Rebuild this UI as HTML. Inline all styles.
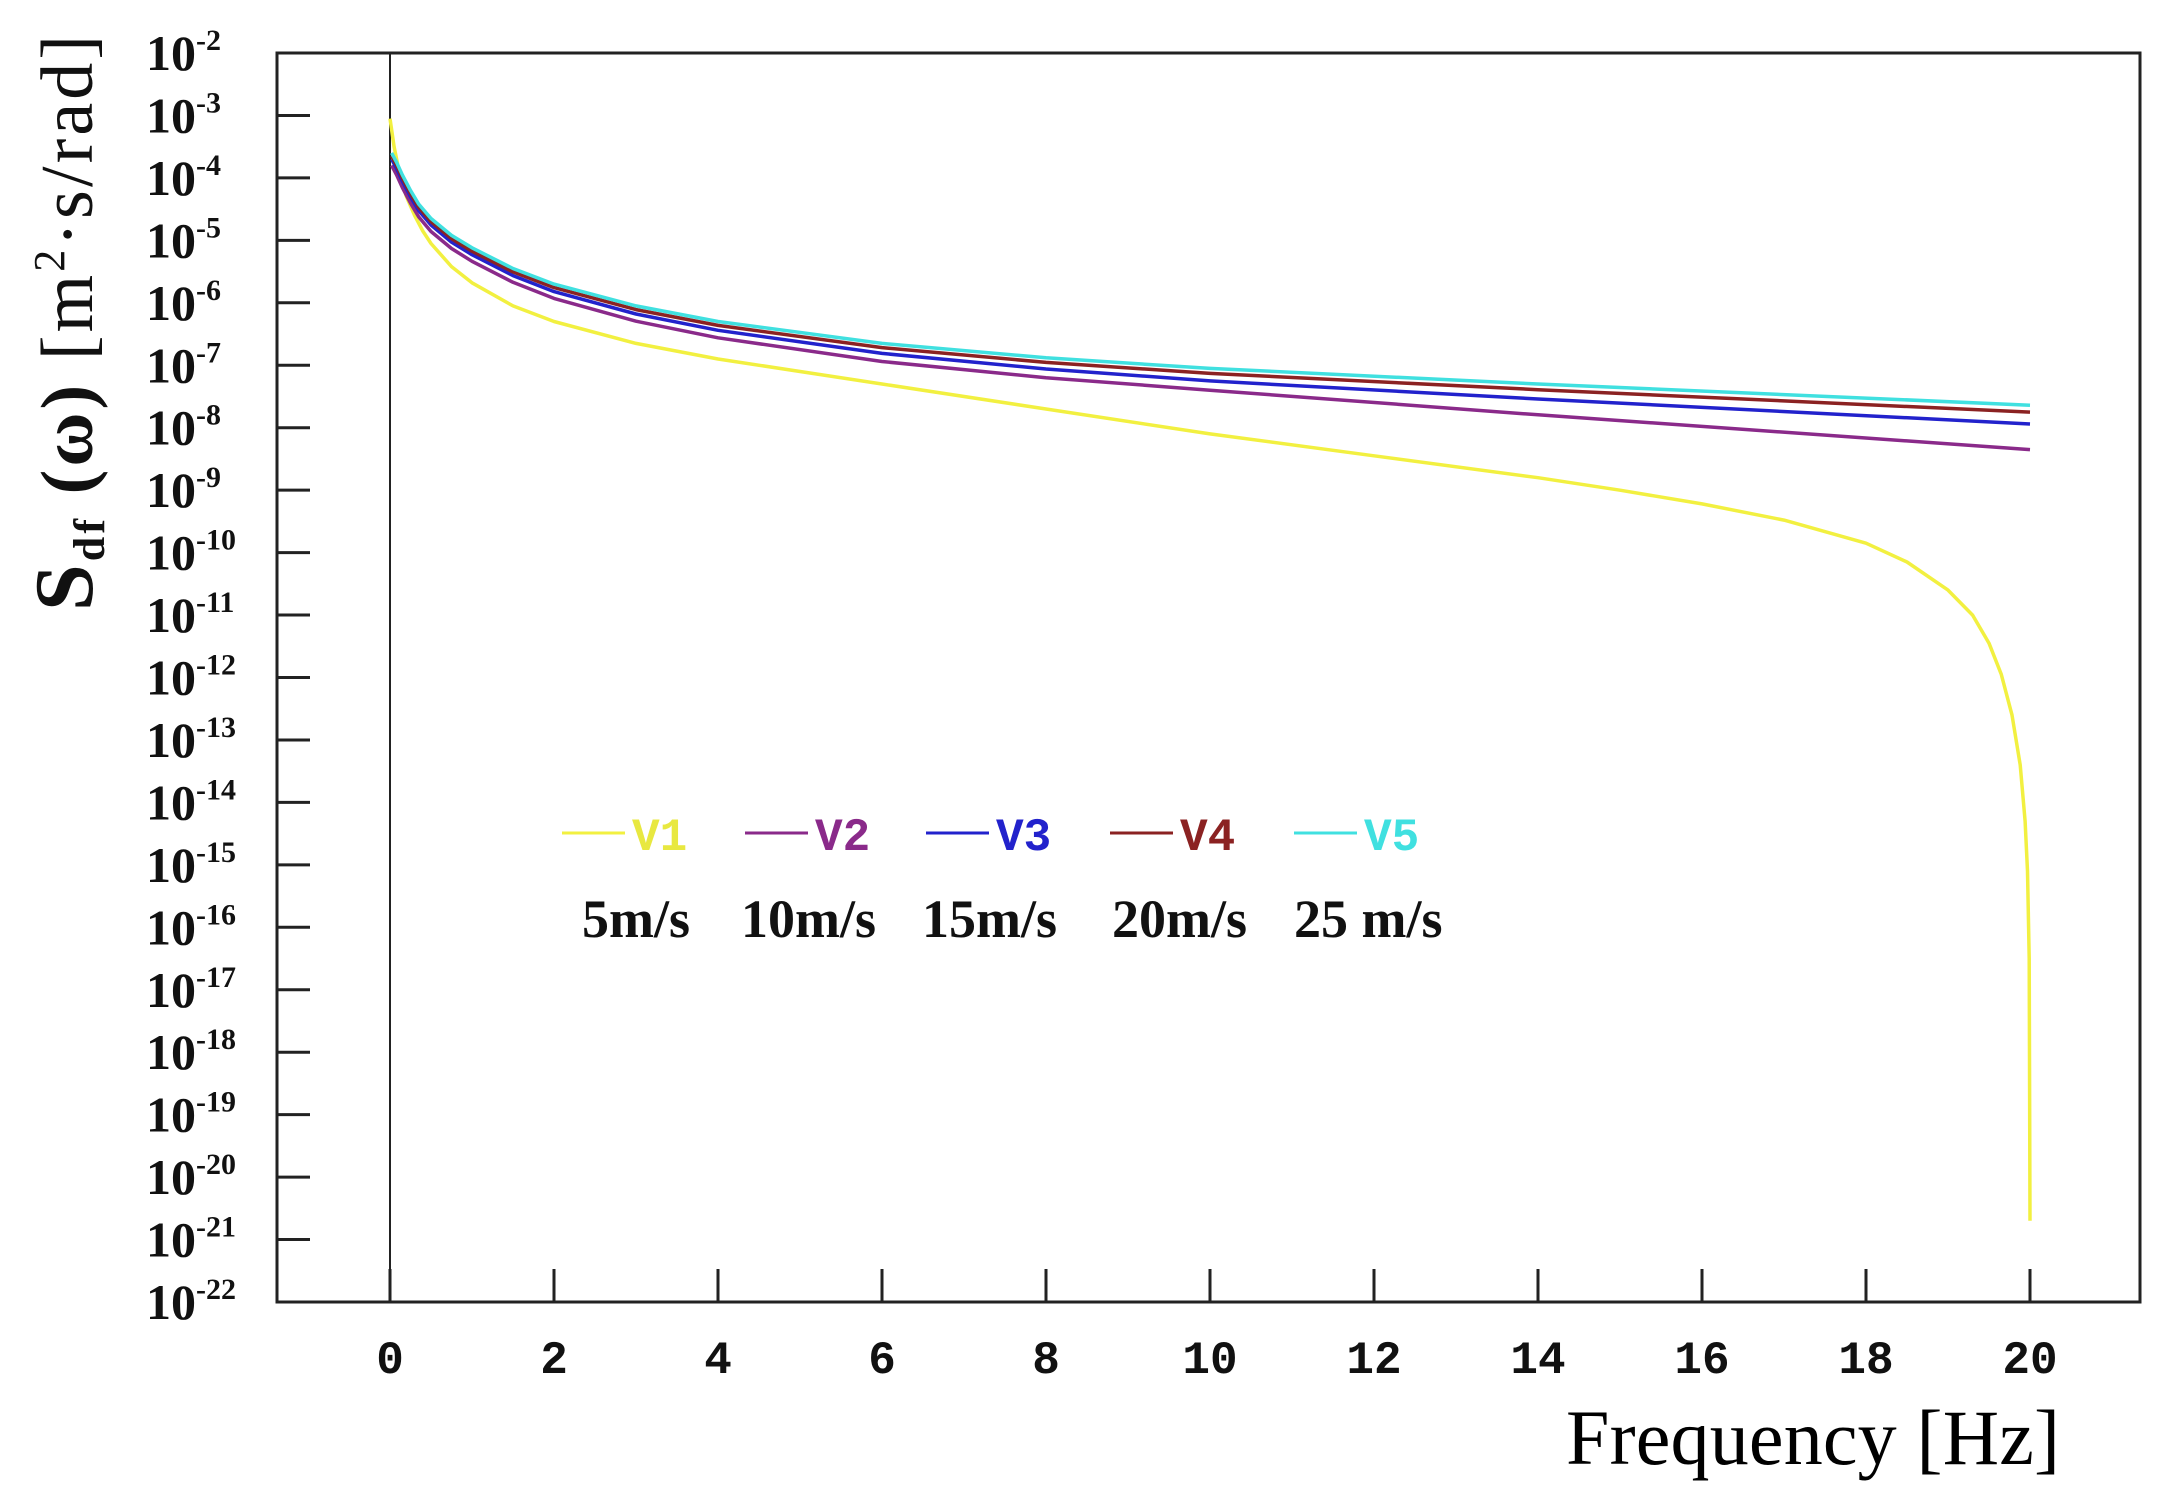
<!DOCTYPE html>
<html><head><meta charset="utf-8"><style>
html,body{margin:0;padding:0;background:#fff;}
svg{display:block;}
</style></head><body>
<svg id="s" width="2165" height="1502" viewBox="0 0 2165 1502" xmlns="http://www.w3.org/2000/svg">
<rect width="2165" height="1502" fill="#fff"/>
<rect x="277" y="53" width="1863" height="1249" fill="none" stroke="#222" stroke-width="3"/>
<line x1="390" y1="53" x2="390" y2="1302" stroke="#222" stroke-width="2"/>
<g id="yt"></g><g id="xt"></g><g id="curves" fill="none" stroke-width="3.5" stroke-linejoin="round"></g>
<text x="1566" y="1464" font-family="Liberation Serif, serif" font-size="78" textLength="494">Frequency [Hz]</text>
<text transform="translate(92,611) rotate(-90)" font-family="Liberation Serif, serif" font-size="74" fill="#111" textLength="576"><tspan font-size="84" font-weight="bold">S</tspan><tspan font-size="44" font-weight="bold" dy="12">df</tspan><tspan dy="-12" font-weight="bold"> (ω) </tspan><tspan>[m</tspan><tspan font-size="44" dy="-28">2</tspan><tspan dy="28">·s/rad]</tspan></text>
<g font-family="Liberation Mono, monospace" font-weight="bold" font-size="46">
<line x1="562" y1="833" x2="625" y2="833" stroke="#f2f040" stroke-width="3"/><text x="632" y="850" fill="#e8e840">V1</text>
<line x1="745" y1="833" x2="808" y2="833" stroke="#8a2a8a" stroke-width="3"/><text x="815" y="850" fill="#8a2a8a">V2</text>
<line x1="926" y1="833" x2="989" y2="833" stroke="#2222cc" stroke-width="3"/><text x="996" y="850" fill="#2222cc">V3</text>
<line x1="1110" y1="833" x2="1173" y2="833" stroke="#8b2222" stroke-width="3"/><text x="1180" y="850" fill="#8b2222">V4</text>
<line x1="1294" y1="833" x2="1357" y2="833" stroke="#40e0e0" stroke-width="3"/><text x="1364" y="850" fill="#40e0e0">V5</text>
</g>
<g font-family="Liberation Serif, serif" font-weight="bold" font-size="54" fill="#111">
<text x="582" y="937">5m/s</text><text x="741" y="937">10m/s</text><text x="922" y="937">15m/s</text><text x="1112" y="937">20m/s</text><text x="1294" y="937">25 m/s</text>
</g>
</svg>
<script>
var NS="http://www.w3.org/2000/svg";
function Y(L){return 53+(-2-L)*62.45;}
function X(f){return 390+f*82;}
function el(t,a,p,txt){var e=document.createElementNS(NS,t);for(var k in a)e.setAttribute(k,a[k]);if(txt!=null)e.textContent=txt;p.appendChild(e);return e;}
var yt=document.getElementById('yt');
for(var n=-2;n>=-22;n--){
  var y=Y(n);
  if(n<=-3&&n>=-21) el('line',{x1:277,y1:y,x2:310,y2:y,stroke:'#222','stroke-width':3},yt);
  var t=el('text',{x:146,y:y+17,'font-family':'Liberation Serif, serif','font-weight':'bold','font-size':50,fill:'#111'},yt);
  el('tspan',{},t,'10');
  el('tspan',{'font-size':30,dy:-20},t,String(n));
}
var xt=document.getElementById('xt');
for(var f=0;f<=20;f+=2){
  var x=X(f);
  el('line',{x1:x,y1:1302,x2:x,y2:1269,stroke:'#222','stroke-width':3},xt);
  el('text',{x:x,y:1373,'text-anchor':'middle','font-family':'Liberation Mono, monospace','font-weight':'bold','font-size':46,fill:'#111'},xt,String(f));
}
var base=[[0.02,-3.6],[0.08,-3.75],[0.15,-3.95],[0.25,-4.2],[0.35,-4.42],[0.5,-4.65],[0.75,-4.92],[1,-5.12],[1.5,-5.45],[2,-5.7],[3,-6.05],[4,-6.3],[6,-6.65],[8,-6.88],[10,-7.05],[14,-7.3],[20,-7.64]];
function off(pts,a,b){return pts.map(function(p){return [p[0],p[1]-(a+(b-a)*p[0]/20)];});}
var V2=base.map(function(p){var f=p[0];var o=0.2+0.15*f/10; if(f>10)o=0.35+0.36*(f-10)/10; return [f,p[1]-o];});
var V1=[[0.0,-3.05],[0.05,-3.5],[0.12,-3.95],[0.2,-4.3],[0.3,-4.6],[0.4,-4.85],[0.5,-5.05],[0.75,-5.42],[1,-5.68],[1.5,-6.05],[2,-6.3],[3,-6.65],[4,-6.9],[6,-7.3],[8,-7.7],[10,-8.1],[12,-8.45],[14,-8.8],[15,-9.0],[16,-9.22],[17,-9.48],[18,-9.85],[18.5,-10.15],[19,-10.6],[19.3,-11.0],[19.5,-11.45],[19.65,-11.95],[19.78,-12.6],[19.88,-13.4],[19.94,-14.3],[19.97,-15.1],[19.99,-16.5],[20,-20.7]];
var series=[[V1,'#f2f040'],[V2,'#8a2a8a'],[off(base,0.1,0.3),'#2222cc'],[off(base,0.05,0.11),'#8b2222'],[base,'#40e0e0']];
var g=document.getElementById('curves');
series.forEach(function(s){
  var d=s[0].map(function(p,i){return (i?'L':'M')+X(p[0]).toFixed(1)+','+Y(p[1]).toFixed(1);}).join(' ');
  el('path',{d:d,stroke:s[1]},g);
});
</script>
</body></html>
